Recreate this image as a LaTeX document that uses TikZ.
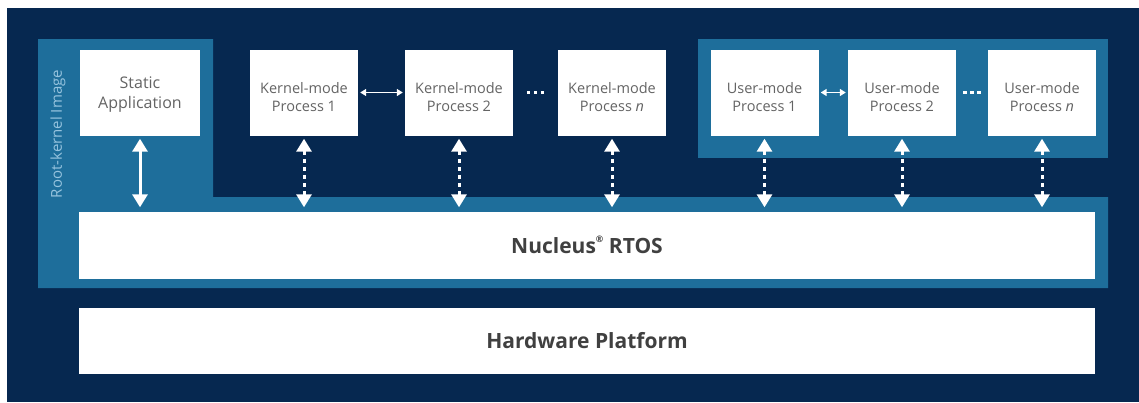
\documentclass[tikz,border=0pt]{standalone}
\usepackage{fontspec}
\setmainfont{Open Sans}
\usetikzlibrary{arrows.meta}
\definecolor{navy}{RGB}{6,40,80}
\definecolor{midblue}{RGB}{30,110,155}
\definecolor{txtgray}{RGB}{100,100,100}
\definecolor{darkgray}{RGB}{64,64,64}
\definecolor{rootc}{RGB}{150,195,222}
\begin{document}
\begin{tikzpicture}[x=1pt,y=-1pt,
  pbox/.style={fill=white,draw=none,minimum width=108pt,minimum height=86pt,inner sep=0pt,align=center,text=txtgray,font=\fontsize{14.5}{18}\selectfont,text height=62pt,text depth=24pt},
  sbox/.style={pbox,minimum width=120pt,font=\fontsize{16}{20}\selectfont,text height=59pt,text depth=27pt},
  wide/.style={fill=white,draw=none,minimum width=1016pt,inner sep=0pt,text=darkgray,font=\bfseries\fontsize{21}{22}\selectfont},
  vsolid/.style={draw=white,line width=3pt,{Triangle[width=15pt,length=13pt]}-{Triangle[width=15pt,length=13pt]},shorten <=3pt,shorten >=4pt},
  vdot/.style={vsolid,dash pattern=on 4pt off 4pt},
  hsmall/.style={draw=white,line width=1.8pt,{Triangle[width=7pt,length=6pt]}-{Triangle[width=7pt,length=6pt]},shorten <=2pt,shorten >=2pt},
  hdots/.style={draw=white,line width=3.5pt,dash pattern=on 3.5pt off 3.5pt}
]
\useasboundingbox (0,0) rectangle (1139,402);
\fill[white] (0,0) rectangle (1139,402);
\fill[navy] (7,8) rectangle (1139,402);
\fill[midblue] (38,39) -- (213,39) -- (213,197) -- (1108,197) -- (1108,288) -- (38,288) -- cycle;
\fill[midblue] (698,39) rectangle (1108,158);

\node[rotate=90,text=rootc,font=\fontsize{15}{16}\selectfont] (root) at (58,134) {Root-kernel Image};

\node[sbox] (sa) at (140,92.5) {Static\\Application};
\node[pbox] (k1) at (304,92.5) {Kernel-mode\\Process 1};
\node[pbox] (k2) at (459,92.5) {Kernel-mode\\Process 2};
\node[pbox] (kn) at (612,92.5) {Kernel-mode\\Process \textit{n}};
\node[pbox] (u1) at (764.5,92.5) {User-mode\\Process 1};
\node[pbox] (u2) at (902,92.5) {User-mode\\Process 2};
\node[pbox] (un) at (1042,92.5) {User-mode\\Process \textit{n}};

\node[wide,minimum height=67pt] (nuc) at (587,245) {Nucleus\raisebox{0.5em}{\fontsize{9}{9}\selectfont ®} RTOS};
\node[wide,minimum height=66pt] (hw) at (587,341) {Hardware Platform};

\draw[vsolid] (sa.south) -- (sa.south |- nuc.north);
\foreach \n in {k1,k2,kn,u1,u2,un}
  \draw[vdot] (\n.south) -- (\n.south |- nuc.north);

\draw[hsmall] (k1.east) -- (k2.west);
\draw[hsmall] (u1.east) -- (u2.west);
\draw[hdots,shorten <=13.75pt,shorten >=13.75pt] (k2.east) -- (kn.west);
\draw[hdots,shorten <=7.25pt,shorten >=7.25pt] (u2.east) -- (un.west);
\end{tikzpicture}
\end{document}
